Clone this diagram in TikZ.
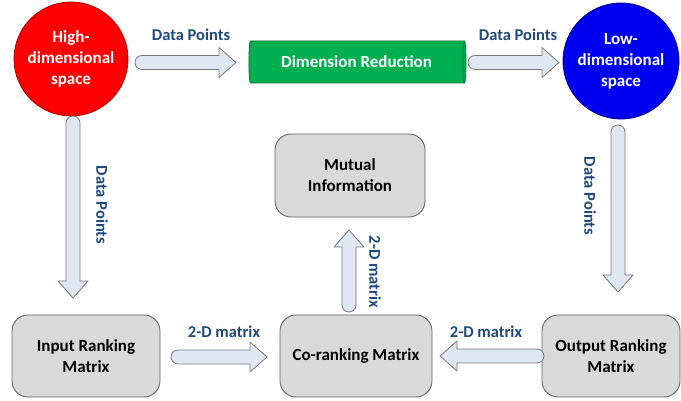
\documentclass[tikz,border=0pt]{standalone}
\usepackage{fontspec}
\setmainfont{Carlito}
\usetikzlibrary{shapes.geometric,calc}
\definecolor{lblue}{RGB}{31,73,125}
\definecolor{arrfill}{RGB}{223,231,242}
\definecolor{arrline}{RGB}{120,120,120}
\definecolor{boxfill}{RGB}{217,217,217}
\definecolor{boxline}{RGB}{100,100,100}
\definecolor{cylgreen}{RGB}{0,176,80}
\tikzset{
  txt/.style={font=\fontsize{17}{21}\selectfont\bfseries, align=center},
  lbl/.style={font=\fontsize{16.5}{20}\selectfont\bfseries, text=lblue, inner sep=0pt},
  circ/.style={circle, txt, text=white, minimum size=#1, inner sep=0pt},
  gbox/.style={rectangle, rounded corners=16pt, draw=boxline, line width=0.9pt, fill=boxfill, txt},
  blockarrow/.style={draw=arrline, fill=arrfill, line width=0.8pt, line join=round},
}
\newcommand{\barrow}[2]{%
  \draw[blockarrow] let \p1=(#1), \p2=(#2), \n1={atan2(\y2-\y1,\x2-\x1)} in
    ($(\p1)+(\n1+90:7pt)$) --
    ($(\p2)+(\n1+180:17pt)+(\n1+90:7pt)$) --
    ($(\p2)+(\n1+180:17pt)+(\n1+90:15pt)$) --
    (\p2) --
    ($(\p2)+(\n1+180:17pt)+(\n1-90:15pt)$) --
    ($(\p2)+(\n1+180:17pt)+(\n1-90:7pt)$) --
    ($(\p1)+(\n1-90:7pt)$) arc[start angle=\n1-90, delta angle=-180, radius=7pt] -- cycle;
}
\begin{document}
\begin{tikzpicture}[x=1pt,y=1pt]
\useasboundingbox (0,0) rectangle (681,401);
% main nodes
\node[circ=114pt, fill=red, draw={rgb,255:red,170;green,0;blue,0}, line width=0.8pt] (hd) at (71,342) {High-\\dimensional\\space};
\node[circ=116pt, fill={rgb,255:red,0;green,0;blue,240}, draw={rgb,255:red,0;green,0;blue,140}, line width=0.8pt] (ld) at (621,340) {Low-\\dimensional\\space};
\node[cylinder, shape aspect=0.25, minimum width=42pt, minimum height=217pt, fill=cylgreen, draw={rgb,255:red,0;green,110;blue,50}, line width=0.8pt, txt, text=white, inner sep=0pt] (dr) at (356.5,339) {Dimension Reduction};
\node[gbox, minimum width=150pt, minimum height=83pt] (mi) at (350,225.5) {Mutual\\Information};
\node[gbox, minimum width=148pt, minimum height=82pt] (irm) at (86,45) {Input Ranking\\Matrix};
\node[gbox, minimum width=152pt, minimum height=82pt] (crm) at (356,45) {Co-ranking Matrix};
\node[gbox, minimum width=138pt, minimum height=82pt] (orm) at (611,45) {Output Ranking\\Matrix};
% arrow end points
\coordinate (a1s) at (142,338.5); \coordinate (a1e) at (236,338.5);
\coordinate (a2s) at (475,338.5); \coordinate (a2e) at (559,338.5);
\coordinate (a3s) at (73,278); \coordinate (a3e) at (73,103);
\coordinate (a4s) at (618,269); \coordinate (a4e) at (618,109);
\coordinate (a5s) at (349,96); \coordinate (a5e) at (349,171);
\coordinate (a6s) at (178,44); \coordinate (a6e) at (267,44);
\coordinate (a7s) at (537,45); \coordinate (a7e) at (440,45);
\barrow{a1s}{a1e}
\barrow{a2s}{a2e}
\barrow{a3s}{a3e}
\barrow{a4s}{a4e}
\barrow{a5s}{a5e}
\barrow{a6s}{a6e}
\barrow{a7s}{a7e}
% labels
\node[lbl] (l1) at (191,366) {Data Points};
\node[lbl] (l2) at (518,366) {Data Points};
\node[lbl, rotate=-90] (l3) at (102,196) {Data Points};
\node[lbl, rotate=-90] (l4) at (590,205) {Data Points};
\node[lbl, rotate=-90] (l5) at (375,129) {2-D matrix};
\node[lbl] (l6) at (224,69) {2-D matrix};
\node[lbl] (l7) at (486,69) {2-D matrix};
\end{tikzpicture}
\end{document}
